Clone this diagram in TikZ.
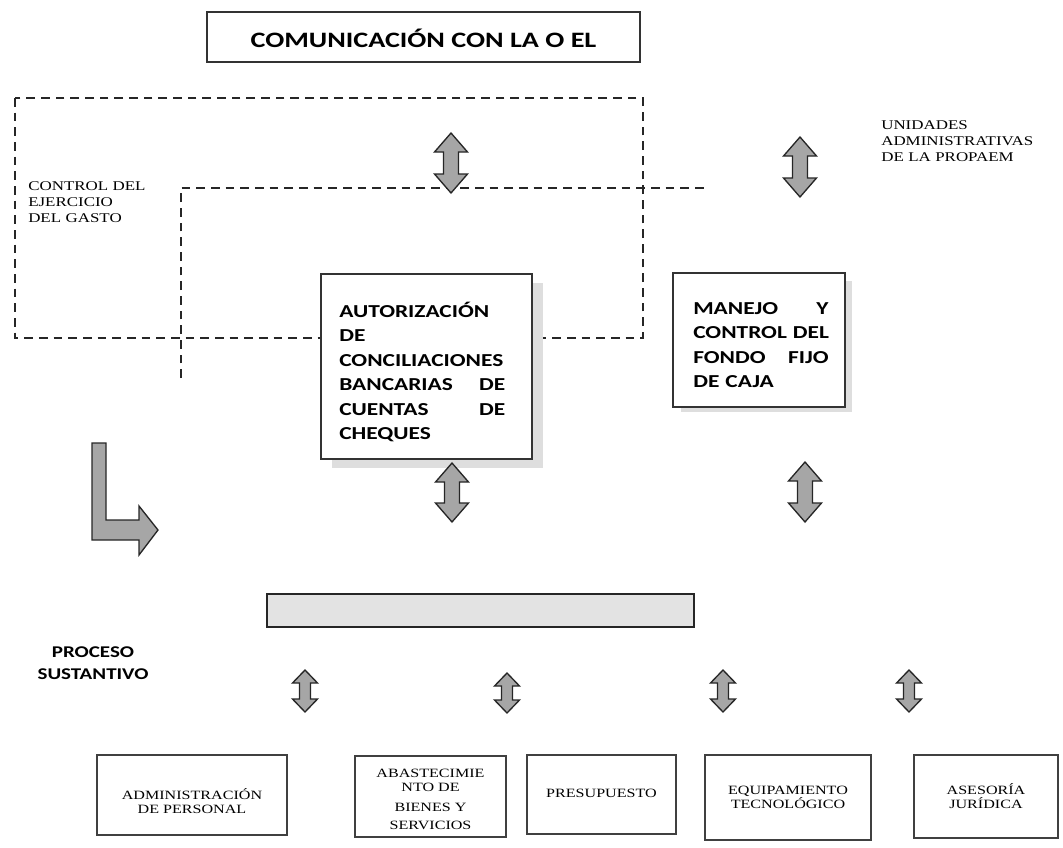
\documentclass[tikz,border=0pt]{standalone}
\usepackage{fontspec}
\usetikzlibrary{fit}
\newfontfamily\sansw[FakeStretch=1.28]{Carlito}
\newfontfamily\serifw[FakeStretch=1.27]{Liberation Serif}
\newcommand{\vdarrow}[6]{%
  \draw[blockarrow] (#1,#2) -- ({#1+#4},{#2+#6}) -- ({#1+#5},{#2+#6}) -- ({#1+#5},{#3-#6}) -- ({#1+#4},{#3-#6}) -- (#1,#3) -- ({#1-#4},{#3-#6}) -- ({#1-#5},{#3-#6}) -- ({#1-#5},{#2+#6}) -- ({#1-#4},{#2+#6}) -- cycle;}
\tikzset{
  dashedline/.style={line width=1.8pt, dash pattern=on 6.5pt off 4.5pt, draw=black!85},
  bigbox/.style={draw=black!80, line width=1pt, fill=white, inner sep=0pt},
  shadowfill/.style={fill=black!13, draw=none},
  boldtxt/.style={font=\sansw\bfseries\fontsize{13.7}{18.4}\selectfont, inner sep=0pt, align=left},
  smallbox/.style={draw=black!75, line width=1.2pt, fill=white, inner sep=0pt},
  smalltxt/.style={font=\serifw\fontsize{9.5}{10.5}\selectfont, align=center, inner sep=0pt},
  blockarrow/.style={fill=black!35, draw=black!85, line width=1pt, line join=miter},
  serlabel/.style={font=\serifw\fontsize{10}{12}\selectfont, align=left, inner sep=0pt, text width=130pt},
}
\begin{document}
\begin{tikzpicture}[x=0.75pt,y=-0.75pt]
\useasboundingbox (0,0) rectangle (1063,847);

% title
\node[bigbox, fit={(207,12) (640,62)}] (title) {};
\node[font=\sansw\bfseries\fontsize{16.5}{18}\selectfont, inner sep=0pt] (titletxt) at (423.5,38) {COMUNICACIÓN CON LA O EL};

% dashed frames
\draw[dashedline] (15,98) rectangle (643,338);
\draw[dashedline] (181,378) -- (181,188) -- (707,188);

% labels
\node[serlabel, anchor=base west] (control) at (28,190.5) {CONTROL DEL\\EJERCICIO\\DEL GASTO};
\node[serlabel, anchor=base west] (unidades) at (881,129.5) {UNIDADES\\ADMINISTRATIVAS\\DE LA PROPAEM};

% top arrows
\vdarrow{451}{133}{193}{16.5}{7.5}{19}
\vdarrow{800}{137}{197}{16.5}{7.5}{19}

% shadows
\fill[shadowfill] (332,283) rectangle (543,468);
\fill[shadowfill] (681,281) rectangle (852,412);

% main boxes
\node[bigbox, fit={(321,274) (532,459)}] (auth) {};
\node[boldtxt, text width=124.5pt, anchor=base west] (authtxt) at (339,317)
  {AUTORIZACIÓN\\DE\\CONCILIACIONES\\BANCARIAS\hfill DE\\CUENTAS\hfill DE\\CHEQUES};
\node[bigbox, fit={(673,273) (845,407)}] (manejo) {};
\node[boldtxt, text width=101.5pt, anchor=base west] (manejotxt) at (693,314)
  {MANEJO\hfill Y\\\mbox{CONTROL DEL}\\FONDO\hfill FIJO\\DE CAJA};

% middle arrows
\vdarrow{452}{463}{522}{16.5}{7.5}{19}
\vdarrow{805}{462}{522}{16.5}{7.5}{19}

% L arrow
\draw[blockarrow] (92,443) -- (106,443) -- (106,520) -- (139,520) -- (139,506) -- (158,530) -- (139,555) -- (139,540) -- (92,540) -- cycle;

% gray bar
\node[draw=black!85, line width=1pt, fill=black!11, inner sep=0pt, fit={(267,594) (694,627)}] (bar) {};

% proceso sustantivo
\node[font=\sansw\bfseries\fontsize{12.3}{16.5}\selectfont, align=center, text width=110pt, inner sep=0pt, anchor=base] (proceso) at (93,657) {PROCESO\\SUSTANTIVO};

% small arrows
\vdarrow{305}{670}{712}{12.5}{5.5}{13}
\vdarrow{507}{673}{713}{12.5}{5.5}{13}
\vdarrow{723}{670}{712}{12.5}{5.5}{13}
\vdarrow{909}{670}{712}{12.5}{5.5}{13}

% bottom boxes
\node[smallbox, fit={(97,755) (287,835)}] (b1) {};
\node[smalltxt] (b1t) at (192,801) {ADMINISTRACIÓN\\DE PERSONAL};
\node[smallbox, fit={(355,756) (506,837)}] (b2) {};
\node[smalltxt] (b2t) at (430.5,799.5) {ABASTECIMIE\\NTO DE\\[4.5pt]BIENES Y\\[3.5pt]SERVICIOS};
\node[smallbox, fit={(527,755) (676,834)}] (b3) {};
\node[smalltxt] (b3t) at (601.5,793) {PRESUPUESTO};
\node[smallbox, fit={(705,755) (871,840)}] (b4) {};
\node[smalltxt] (b4t) at (788,797.5) {EQUIPAMIENTO\\TECNOLÓGICO};
\node[smallbox, fit={(914,755) (1058,838)}] (b5) {};
\node[smalltxt] (b5t) at (986,796.5) {ASESORÍA\\JURÍDICA};
\end{tikzpicture}
\end{document}
